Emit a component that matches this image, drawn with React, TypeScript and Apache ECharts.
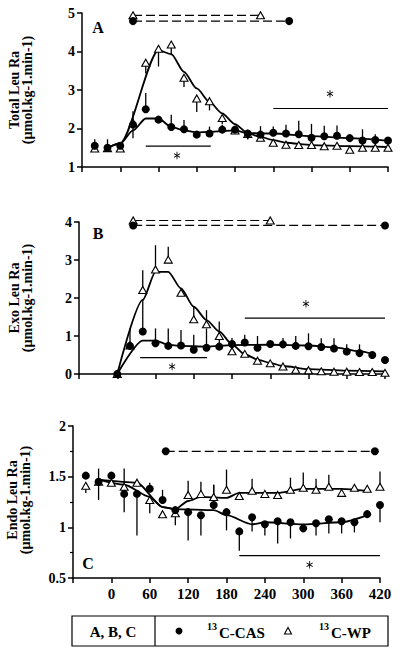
import React, { useEffect, useRef } from "react";
import * as echarts from "echarts";

const FONT = '"Liberation Serif", "Times New Roman", serif';

// ---------- time points ----------
const T_AC = [-40, -20, 0, 20, 40, 60, 80, 100, 120, 140, 160, 180, 200, 220, 240, 260, 280, 300, 320, 340, 360, 380, 400, 420];
const T_B = [0, 20, 40, 60, 80, 100, 120, 140, 160, 180, 200, 220, 240, 260, 280, 300, 320, 340, 360, 380, 400, 420];
const X_TICKS = [-60, 0, 60, 120, 180, 240, 300, 360, 420];

// ---------- Panel A: Total Leu Ra ----------
const A_CAS = [1.55, 1.5, 1.55, 2.1, 2.5, 2.23, 2.04, 1.98, 1.84, 1.87, 1.97, 1.97, 1.87, 1.84, 1.89, 1.87, 1.85, 1.76, 1.8, 1.81, 1.75, 1.69, 1.7, 1.69];
const A_WP = [1.48, 1.49, 1.48, 2.15, 3.71, 4.07, 4.18, 3.32, 2.78, 2.71, 2.27, 1.95, 1.86, 1.76, 1.63, 1.58, 1.57, 1.57, 1.54, 1.55, 1.45, 1.5, 1.5, 1.5];
const A_CAS_ERR = [[-40, 1.55, 1.72], [-20, 1.5, 1.72], [20, 1.75, 2.45], [40, 2.5, 2.92], [80, 2.04, 2.36], [100, 1.98, 2.22], [140, 1.87, 2.05], [160, 1.97, 2.1], [200, 1.72, 1.87], [220, 1.84, 2.06], [240, 1.89, 2.05], [260, 1.87, 2.1], [280, 1.85, 2.2], [300, 1.76, 2.12], [320, 1.8, 2.07], [340, 1.81, 2.08], [380, 1.69, 1.98], [400, 1.7, 1.85]];
const A_WP_ERR = [[40, 3.43, 3.71], [60, 3.61, 4.07], [80, 3.9, 4.18], [100, 3.08, 3.32], [120, 2.43, 2.78], [140, 2.47, 2.71], [160, 2.12, 2.27], [200, 1.72, 1.86]];
const A_CAS_FIT = [[-20, 1.5], [0, 1.61], [20, 1.95], [40, 2.26], [60, 2.26], [80, 2.04], [100, 1.95], [120, 1.9], [140, 1.91], [180, 1.95], [200, 1.88], [240, 1.87], [300, 1.8], [360, 1.75], [420, 1.68]];
const A_WP_FIT = [[-20, 1.5], [0, 1.62], [60, 4.03], [80, 3.93], [100, 3.47], [120, 3.04], [140, 2.69], [160, 2.39], [180, 2.11], [200, 1.88], [220, 1.78], [240, 1.7], [260, 1.63], [300, 1.57], [360, 1.54], [420, 1.52]];
const A_SIG_WP = [[20, 4.94], [220, 4.94]];
const A_SIG_CAS = [[20, 4.79], [265, 4.79]];
const A_STAR_LINES = [[[40, 1.54], [142, 1.54]], [[240, 2.52], [420, 2.52]]];
const A_STARS = [[89, 1.3], [329, 2.9]];

// ---------- Panel B: Exo Leu Ra ----------
const B_CAS = [0, 0.74, 1.12, 0.81, 0.74, 0.75, 0.64, 0.69, 0.72, 0.79, 0.83, 0.69, 0.79, 0.78, 0.74, 0.73, 0.71, 0.67, 0.59, 0.55, 0.5, 0.37];
const B_WP = [0, 0.75, 2.21, 2.75, 3.01, 2.14, 1.44, 1.31, 1.0, 0.6, 0.53, 0.35, 0.28, 0.2, 0.11, 0.1, 0.07, 0.06, 0.06, 0.05, 0.05, 0.03];
const B_CAS_ERR = [[20, 0.74, 1.2], [40, 1.12, 1.95], [60, 0.81, 1.2], [80, 0.74, 1.2], [100, 0.75, 1.16], [120, 0.64, 1.03], [140, 0.69, 1.2], [160, 0.72, 1.03], [180, 0.79, 0.95], [200, 0.83, 1.03], [220, 0.69, 1.0], [260, 0.78, 0.95], [280, 0.74, 1.0], [300, 0.73, 1.07], [320, 0.71, 0.94], [340, 0.67, 0.94], [360, 0.59, 0.78], [380, 0.55, 0.78], [400, 0.5, 0.6]];
const B_WP_ERR = [[40, 2.21, 2.73], [60, 2.75, 3.39], [80, 3.01, 3.35], [120, 1.44, 1.77], [140, 1.31, 1.68], [160, 1.0, 1.38]];
const B_CAS_FIT = [[0, 0], [40, 0.88], [60, 0.88], [80, 0.77], [100, 0.74], [140, 0.72], [180, 0.76], [240, 0.77], [300, 0.75], [340, 0.7], [380, 0.6], [405, 0.5]];
const B_WP_FIT = [[0, 0], [40, 1.95], [60, 2.69], [80, 2.69], [100, 2.25], [120, 1.77], [140, 1.42], [160, 1.12], [180, 0.78], [200, 0.52], [220, 0.38], [240, 0.29], [260, 0.21], [300, 0.13], [360, 0.09], [420, 0.07]];
const B_SIG_WP = [[25, 4.04], [240, 4.04]];
const B_SIG_CAS = [[25, 3.91], [420, 3.91]];
const B_STAR_LINES = [[[36, 0.43], [141, 0.43]], [[200, 1.47], [420, 1.47]]];
const B_STARS = [[86, 0.2], [296, 1.85]];

// ---------- Panel C: Endo Leu Ra ----------
const C_CAS = [1.51, 1.45, 1.51, 1.33, 1.33, 1.38, 1.27, 1.17, 1.15, 1.12, 1.22, 1.15, 0.96, 1.1, 1.03, 1.06, 1.05, 0.99, 1.04, 1.08, 1.06, 1.05, 1.13, 1.22];
const C_WP = [1.41, 1.45, 1.44, 1.4, 1.44, 1.27, 1.13, 1.14, 1.32, 1.33, 1.3, 1.37, 1.31, 1.36, 1.33, 1.32, 1.37, 1.39, 1.37, 1.4, 1.34, 1.39, 1.38, 1.4];
const C_CAS_ERR = [[-20, 1.27, 1.58], [20, 1.15, 1.33], [40, 0.92, 1.33], [60, 1.38, 1.44], [80, 1.27, 1.37], [100, 1.02, 1.17], [120, 0.87, 1.15], [140, 0.92, 1.12], [160, 1.22, 1.42], [180, 0.97, 1.15], [200, 0.77, 0.96], [220, 0.96, 1.1], [240, 0.92, 1.03], [260, 0.84, 1.06], [280, 0.89, 1.05], [300, 0.96, 0.99], [320, 0.92, 1.04], [340, 0.94, 1.08], [360, 0.94, 1.06], [380, 0.95, 1.05], [420, 1.05, 1.22]];
const C_WP_ERR = [[-40, 1.34, 1.41], [20, 1.4, 1.58], [60, 1.14, 1.27], [120, 1.32, 1.46], [140, 1.33, 1.45], [160, 1.3, 1.42], [180, 1.37, 1.57], [220, 1.36, 1.48], [280, 1.37, 1.49], [300, 1.39, 1.54], [320, 1.37, 1.48], [340, 1.4, 1.52], [420, 1.4, 1.55]];
const C_CAS_FIT = [[-20, 1.47], [20, 1.42], [60, 1.3], [80, 1.2], [100, 1.18], [160, 1.17], [180, 1.12], [220, 1.03], [240, 1.05], [300, 1.03], [360, 1.05], [400, 1.12]];
const C_WP_FIT = [[-20, 1.47], [40, 1.44], [80, 1.2], [100, 1.18], [120, 1.26], [140, 1.3], [180, 1.29], [200, 1.34], [260, 1.34], [300, 1.38], [360, 1.38], [400, 1.36]];
const C_SIG_CAS = [[85, 1.75], [412, 1.75]];
const C_STAR_LINES = [[[200, 0.72], [420, 0.72]]];
const C_STARS = [[310, 0.63]];

const Y_TITLES = ["Total Leu Ra", "Exo Leu Ra", "Endo Leu Ra"];
const UNIT = "(\u00b5mol.kg-1.min-1)";
const PANEL_LETTERS = ["A", "B", "C"];
const LEGEND_GROUP = "A, B, C";
const LEGEND_CAS = "C-CAS";
const LEGEND_WP = "C-WP";
const LEGEND_SUP = "13";

// asterisk glyph used as a symbol (three thin crossing bars)
const ASTERISK =
  "path://M-0.6,-5L0.6,-5L0.6,5L-0.6,5Z" +
  "M4.03,-3.02L4.63,-1.98L-4.03,3.02L-4.63,1.98Z" +
  "M-4.63,-1.98L-4.03,-3.02L4.63,1.98L4.03,3.02Z";

const pair = (t: number[], v: number[]) => t.map((x, i) => [x, v[i]]);

function errSeries(idx: number, data: number[][]) {
  return {
    type: "custom",
    xAxisIndex: idx,
    yAxisIndex: idx,
    data,
    encode: { x: 0, y: [1, 2] },
    silent: true,
    z: 1,
    renderItem: (_p: any, api: any) => {
      const a = api.coord([api.value(0), api.value(1)]);
      const b = api.coord([api.value(0), api.value(2)]);
      return {
        type: "line",
        shape: { x1: a[0], y1: a[1], x2: b[0], y2: b[1] },
        style: { stroke: "#000", lineWidth: 1.3 },
      };
    },
  };
}

function fitSeries(idx: number, data: number[][]) {
  return {
    type: "line",
    xAxisIndex: idx,
    yAxisIndex: idx,
    data,
    symbol: "none",
    smooth: 0.25,
    smoothMonotone: "x",
    lineStyle: { color: "#000", width: 1.8 },
    z: 2,
    silent: true,
  };
}

const circleStyle = { color: "#000", opacity: 1 };
const triStyle = { color: "#fff", borderColor: "#000", borderWidth: 1.1, opacity: 1 };

function ptsSeries(idx: number, data: number[][], kind: "cas" | "wp") {
  return {
    type: "scatter",
    xAxisIndex: idx,
    yAxisIndex: idx,
    data,
    symbol: kind === "cas" ? "circle" : "triangle",
    symbolSize: kind === "cas" ? 8 : [8, 7],
    itemStyle: kind === "cas" ? circleStyle : triStyle,
    z: kind === "cas" ? 4 : 3,
    silent: true,
  };
}

function sigSeries(idx: number, data: number[][], kind: "cas" | "wp") {
  return {
    type: "line",
    xAxisIndex: idx,
    yAxisIndex: idx,
    data,
    clip: false,
    symbol: kind === "cas" ? "circle" : "triangle",
    symbolSize: kind === "cas" ? 8 : [8, 7],
    showSymbol: true,
    itemStyle: kind === "cas" ? circleStyle : triStyle,
    lineStyle: { color: "#000", width: 1.2, type: [9, 4] },
    z: 3,
    silent: true,
  };
}

function starLineSeries(idx: number, data: number[][]) {
  return {
    type: "line",
    xAxisIndex: idx,
    yAxisIndex: idx,
    data,
    symbol: "none",
    lineStyle: { color: "#000", width: 1.2 },
    z: 2,
    silent: true,
  };
}

function starSeries(idx: number, data: number[][]) {
  return {
    type: "scatter",
    xAxisIndex: idx,
    yAxisIndex: idx,
    data,
    symbol: ASTERISK,
    symbolKeepAspect: true,
    symbolSize: [7, 7.5],
    itemStyle: { color: "#000", opacity: 1 },
    z: 2,
    silent: true,
  };
}

const GRIDS = [
  { left: 82, top: 13, width: 306, height: 154 },
  { left: 79, top: 222, width: 306, height: 152 },
  { left: 73, top: 426, width: 307, height: 152 },
];
const Y_RANGES = [
  { min: 1, max: 5, interval: 1 },
  { min: 0, max: 4, interval: 1 },
  { min: 0.5, max: 2, interval: 0.5 },
];

const axisLineStyle = { color: "#000", width: 1.5 };
const labelStyle = { color: "#000", fontFamily: FONT, fontWeight: "bold" as const, fontSize: 14 };

export default function App() {
  const ref = useRef<HTMLDivElement>(null);
  useEffect(() => {
    if (!ref.current) return;
    const chart = echarts.init(ref.current, null, { renderer: "svg" });

    const xAxis = GRIDS.map((_, i) => ({
      type: "value",
      gridIndex: i,
      min: X_TICKS[0],
      max: X_TICKS[X_TICKS.length - 1],
      interval: 60,
      axisLine: { show: true, onZero: false, lineStyle: axisLineStyle },
      axisTick: { show: true, length: 5, lineStyle: axisLineStyle },
      axisLabel: {
        show: i === 2,
        ...labelStyle,
        fontSize: 15,
        margin: 8,
        formatter: (v: number) => (v === X_TICKS[0] ? "" : String(v)),
      },
      splitLine: { show: false },
    }));
    const yAxis = GRIDS.map((_, i) => ({
      type: "value",
      gridIndex: i,
      ...Y_RANGES[i],
      axisLine: { show: true, onZero: false, lineStyle: axisLineStyle },
      axisTick: { show: true, length: 5, lineStyle: axisLineStyle },
      minorTick: { show: i === 2, splitNumber: 2, length: 3, lineStyle: { color: "#000", width: 1.2 } },
      axisLabel: { ...labelStyle, margin: 7 },
      splitLine: { show: false },
    }));

    const series: any[] = [
      // A
      errSeries(0, A_CAS_ERR),
      errSeries(0, A_WP_ERR),
      fitSeries(0, A_CAS_FIT),
      fitSeries(0, A_WP_FIT),
      ...A_STAR_LINES.map((l) => starLineSeries(0, l)),
      starSeries(0, A_STARS),
      sigSeries(0, A_SIG_WP, "wp"),
      sigSeries(0, A_SIG_CAS, "cas"),
      ptsSeries(0, pair(T_AC, A_WP), "wp"),
      ptsSeries(0, pair(T_AC, A_CAS), "cas"),
      // B
      errSeries(1, B_CAS_ERR),
      errSeries(1, B_WP_ERR),
      fitSeries(1, B_CAS_FIT),
      fitSeries(1, B_WP_FIT),
      ...B_STAR_LINES.map((l) => starLineSeries(1, l)),
      starSeries(1, B_STARS),
      sigSeries(1, B_SIG_WP, "wp"),
      sigSeries(1, B_SIG_CAS, "cas"),
      ptsSeries(1, pair(T_B, B_WP), "wp"),
      ptsSeries(1, pair(T_B, B_CAS), "cas"),
      // C
      errSeries(2, C_CAS_ERR),
      errSeries(2, C_WP_ERR),
      fitSeries(2, C_CAS_FIT),
      fitSeries(2, C_WP_FIT),
      ...C_STAR_LINES.map((l) => starLineSeries(2, l)),
      starSeries(2, C_STARS),
      sigSeries(2, C_SIG_CAS, "cas"),
      ptsSeries(2, pair(T_AC, C_WP), "wp"),
      ptsSeries(2, pair(T_AC, C_CAS), "cas"),
    ];

    const titlePos = [
      { x: 21, y: 90 },
      { x: 21, y: 298 },
      { x: 19, y: 500 },
    ];
    const letterPos = [
      { x: 98, y: 27 },
      { x: 98, y: 233 },
      { x: 88, y: 563 },
    ];
    const txt = (text: string, x: number, y: number, size: number, align = "center", extra: any = {}) => ({
      type: "text",
      x,
      y,
      silent: true,
      ...extra,
      style: {
        text,
        fill: "#000",
        fontFamily: FONT,
        fontWeight: "bold",
        fontSize: size,
        align,
        textAlign: align,
        verticalAlign: "middle",
        textVerticalAlign: "middle",
        lineHeight: 13,
      },
    });

    const graphic: any[] = [
      ...Y_TITLES.map((t, i) =>
        txt(t + "\n" + UNIT, titlePos[i].x, titlePos[i].y, 14, "center", { rotation: Math.PI / 2 })
      ),
      ...PANEL_LETTERS.map((l, i) => txt(l, letterPos[i].x, letterPos[i].y, 16)),
      {
        type: "rect",
        shape: { x: 72, y: 616, width: 316, height: 30 },
        style: { fill: "none", stroke: "#000", lineWidth: 1.2 },
        silent: true,
      },
      {
        type: "line",
        shape: { x1: 155, y1: 616, x2: 155, y2: 646 },
        style: { stroke: "#000", lineWidth: 1.2 },
        silent: true,
      },
      txt(LEGEND_GROUP, 113, 632, 15),
      { type: "circle", shape: { cx: 179, cy: 631, r: 3.5 }, style: { fill: "#000" }, silent: true },
      txt(LEGEND_SUP, 207, 626, 10, "left"),
      txt(LEGEND_CAS, 219, 633, 15, "left"),
      {
        type: "polygon",
        shape: { points: [[288, 627.5], [284.5, 634], [291.5, 634]] },
        style: { fill: "#fff", stroke: "#000", lineWidth: 1.1 },
        silent: true,
      },
      txt(LEGEND_SUP, 319, 626, 10, "left"),
      txt(LEGEND_WP, 331, 633, 15, "left"),
    ];

    chart.setOption({
      animation: false,
      backgroundColor: "#fff",
      grid: GRIDS.map((g) => ({ ...g, containLabel: false })),
      xAxis,
      yAxis,
      series,
      graphic,
    });
    return () => chart.dispose();
  }, []);
  return (
    <div
      ref={ref}
      style={{ position: "fixed", left: 0, top: 0, width: 400, height: 655, background: "#fff" }}
    />
  );
}
